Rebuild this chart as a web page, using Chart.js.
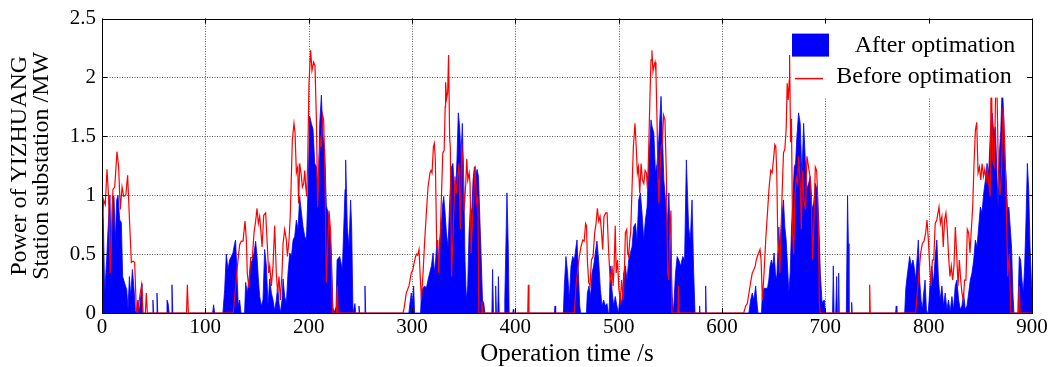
<!DOCTYPE html>
<html>
<head>
<meta charset="utf-8">
<title>Power of YIZHUANG station substation</title>
<script src="https://cdn.jsdelivr.net/npm/chart.js@4/dist/chart.umd.min.js"></script>
<style>
  html, body { margin: 0; padding: 0; background: #fff; }
  #wrap { width: 1050px; height: 367px; }
</style>
</head>
<body>
<div id="wrap"><canvas id="leistung"></canvas></div>
<script>
// Leistung nach der Optimierung (blaue Fläche): Zeit [s] / Leistung [MW]
const afterTime = [
  0, 1.3, 2.6, 4.5, 5.8, 7.7, 9, 10, 11.6, 12.9, 14.2, 15.5, 17.1, 18.7, 20, 22, 23.9, 25.2, 26.5, 27.8,
  29.4, 31, 32.3, 33.5, 34.8, 36, 38.7, 39.5, 48.5, 49.3, 50, 52.5, 53.2, 54, 62, 62.9, 64, 65, 67, 67.7,
  68.5, 107, 108, 109, 117, 118.7, 120.3, 121.9, 123.5, 125.1, 126.7, 128.3, 129.3, 130.6, 131.9, 133.2, 134.5, 138, 139, 140.6,
  142.2, 143.9, 145.5, 147.1, 148.7, 150, 151.3, 152.6, 154.2, 155.8, 157.4, 159.1, 160.7, 162.3, 163.9, 165.5, 167.1, 168.7, 170, 171.3,
  172.6, 174.2, 175.2, 176.8, 178.4, 180, 181.7, 183.3, 184.9, 186.5, 188.1, 189.7, 191.3, 193, 194.6, 196.2, 197.8, 199.4, 201, 202.6,
  204.2, 205.9, 207.5, 209.1, 210.7, 212.3, 213.9, 215.5, 217.1, 218.8, 220.4, 222, 223.5, 224.5, 226.5, 227.5, 230, 232.6, 235.2, 235.8,
  237.4, 239, 240.6, 241.6, 242.9, 244.8, 245.5, 248.2, 248.7, 249.3, 254, 254.5, 255.2, 297, 298, 299.3, 300.4, 301.6, 302.5, 308.3,
  309.1, 310.7, 312.3, 313.9, 315.5, 317.1, 318.8, 320.4, 321.6, 322.9, 324.2, 325.5, 326.8, 328.4, 329.4, 330.7, 332, 333.3, 334.9, 336.7,
  338.3, 339.6, 340.9, 342.2, 343.5, 344.8, 346.1, 347.4, 348.7, 350, 351.3, 352.6, 353.9, 355.2, 356.5, 357.8, 359.1, 360.4, 361.7, 363,
  364.3, 365.6, 366.9, 368.2, 369.5, 370.5, 377.3, 378, 378.8, 380.4, 381, 381.7, 383, 383.6, 384.4, 389.2, 389.8, 391.9, 393.2, 394,
  397.5, 398, 398.5, 437.8, 438.4, 439, 446.5, 447.4, 449, 450.6, 452.2, 453.9, 455.5, 457.1, 458.7, 459.7, 461, 462.3, 463.2, 468.8,
  469.7, 471.3, 472.9, 474.2, 475.8, 477.4, 479, 480.6, 482.3, 483.9, 485.5, 487.1, 488.7, 490, 490.8, 491.9, 493.5, 495.1, 496.7, 498.3,
  499.8, 501.6, 503.2, 504.9, 506.5, 508.1, 509.7, 511.3, 512.9, 514.5, 516.2, 517.8, 519.4, 521, 522.6, 524.3, 525.9, 527.5, 529.1, 531.3,
  532.4, 534, 535.6, 537.2, 538.8, 541, 542.1, 543.7, 545.3, 547, 548.6, 550.2, 551.8, 553, 555, 556.6, 558.2, 560, 562, 563.8,
  565.5, 567.7, 569.3, 571, 572.6, 573.9, 577.8, 578.3, 578.8, 583.6, 584.2, 584.8, 626, 627.7, 629.3, 630.9, 632.6, 633.6, 634.8, 638.2,
  639.1, 640.7, 642.3, 644, 645.3, 646.5, 647.8, 649.1, 650.4, 651.7, 653, 654, 655, 656, 656.9, 658.2, 659.5, 660.8, 662.1, 663.4,
  664.7, 666, 667.3, 668.6, 669.9, 671.2, 672.5, 674.1, 675.7, 677.3, 679, 680.6, 682.2, 683.8, 685.5, 687.1, 688.7, 690.3, 692, 693.6,
  695.2, 696.8, 699, 700, 707, 707.7, 708.5, 710, 711, 711.7, 712.4, 712.9, 713.5, 720.3, 721.5, 722.3, 722.9, 725, 725.5, 726,
  768, 768.6, 769.2, 776.8, 777.8, 779, 781.6, 783.2, 784.8, 785.8, 787.4, 788.7, 790, 791.3, 792.6, 793.9, 795.2, 796.5, 797.8, 798.7,
  799.5, 800.4, 801.7, 803, 804.7, 806.3, 807.9, 809.5, 811.1, 812.8, 814.4, 816, 817.6, 819.2, 820.8, 822.5, 824.1, 825.7, 827.3, 829,
  830.6, 832.2, 833.8, 835.4, 837.1, 838.7, 840.3, 841.9, 843.6, 845.2, 846.8, 848.4, 850, 851.6, 853.3, 854.9, 856.5, 858.1, 859.8, 861.4,
  863, 864.6, 866.3, 867.2, 868.5, 869.8, 871.2, 872.5, 873.8, 875.1, 876.4, 877.6, 878.9, 880.2, 881.5, 882.5, 885.5, 886.4, 887.7, 889,
  890.3, 891.6, 892.9, 894.2, 895.5, 896.8, 898.1, 899.4, 900
];
const afterPower = [
  0.96, 0.79, 0.17, 0.45, 0.7, 1.0, 0.34, 1.0, 0.99, 0.6, 0.96, 1.0, 0.79, 0.77, 0.31, 0.25, 0.2, 0.03, 0.31, 0.14,
  0.37, 0.2, 0.02, 0, 0.11, 0, 0.25, 0, 0, 0.11, 0, 0, 0.17, 0, 0, 0.11, 0.08, 0, 0, 0.24,
  0, 0, 0.07, 0, 0, 0.2, 0.5, 0.37, 0.45, 0.48, 0.51, 0.59, 0.62, 0.34, 0.06, 0.11, 0, 0, 0.26, 0.17,
  0.29, 0.42, 0.45, 0.51, 0.61, 0.48, 0.29, 0.14, 0.06, 0.11, 0.54, 0.4, 0.06, 0.29, 0.17, 0.11, 0.02, 0.11, 0.23, 0.08,
  0, 0.11, 0.29, 0.14, 0.08, 0.34, 0.51, 0.48, 0.62, 0.65, 0.79, 0.71, 0.99, 0.85, 0.73, 0.65, 0.62, 1.05, 1.67, 1.61,
  1.56, 1.27, 1.24, 0.93, 1.61, 1.85, 1.5, 1.39, 0.91, 0.85, 0.72, 0.5, 0.05, 0, 0.05, 0.45, 0.48, 0.37, 1.05, 1.3,
  0.73, 0.56, 0.96, 0.73, 0, 0.08, 0, 0, 0.06, 0, 0, 0.23, 0, 0, 0.08, 0.17, 0.08, 0.23, 0, 0,
  0.17, 0.21, 0.23, 0.21, 0.28, 0.34, 0.4, 0.51, 0.34, 0.45, 0.62, 0.4, 0.62, 0.73, 0.9, 0.99, 0.85, 0.68, 0.56, 1.0,
  1.24, 1.27, 1.07, 1.02, 1.3, 1.7, 1.58, 1.33, 1.61, 1.16, 0.45, 0.11, 0.23, 0.68, 0.9, 0.85, 1.13, 1.24, 1.16, 1.22,
  1.16, 0.82, 0.48, 0.11, 0.08, 0, 0, 0.37, 0, 0, 0.23, 0, 0, 0.31, 0, 0, 0.11, 1.02, 0.54, 0,
  0, 0.03, 0, 0, 0.06, 0, 0, 0.23, 0.48, 0.34, 0.11, 0.4, 0.48, 0.45, 0.56, 0.62, 0.34, 0.06, 0, 0,
  0.17, 0.23, 0.14, 0.34, 0.4, 0.51, 0.61, 0.45, 0.2, 0.06, 0.11, 0.06, 0.08, 0, 0, 0.4, 0.2, 0.06, 0.14, 0.06,
  0, 0.17, 0.06, 0.34, 0.4, 0.28, 0.45, 0.51, 0.56, 0.73, 0.76, 0.62, 0.96, 1.02, 0.85, 0.62, 0.79, 0.9, 1.27, 1.64,
  1.58, 1.53, 1.19, 1.27, 1.47, 1.84, 1.58, 1.13, 0.96, 0.73, 1.02, 0.51, 0.14, 0, 0.34, 0.48, 0.45, 0.4, 0.48, 0.45,
  1.3, 0.73, 0.62, 0.96, 0.34, 0, 0, 0.06, 0, 0, 0.23, 0, 0, 0.11, 0.17, 0.11, 0.23, 0.11, 0, 0,
  0.17, 0.21, 0.21, 0.21, 0.28, 0.4, 0.45, 0.4, 0.51, 0.34, 0.28, 0.51, 0.73, 0.51, 0.68, 0.85, 0.96, 0.73, 0.62, 0.4,
  0.17, 0.34, 0.73, 0.96, 1.24, 1.27, 1.5, 1.7, 1.61, 1.16, 1.61, 1.3, 1.05, 1.1, 1.16, 0.88, 0.93, 1.1, 1.05, 0.79,
  0.33, 0.09, 0.11, 0, 0, 0.4, 0, 0, 0.31, 0, 0, 0.34, 0, 0, 1.0, 0.59, 0, 0, 0.09, 0,
  0, 0.06, 0, 0, 0.2, 0.3, 0.48, 0.4, 0.45, 0.4, 0.28, 0.45, 0.62, 0.28, 0.11, 0.03, 0.17, 0.28, 0.03, 0,
  0, 0.11, 0.28, 0.4, 0.25, 0.48, 0.62, 0.28, 0.11, 0.23, 0.06, 0.17, 0.03, 0.11, 0.01, 0.14, 0.03, 0.23, 0.28, 0.11,
  0.03, 0.06, 0.17, 0.03, 0.06, 0.17, 0.28, 0.34, 0.45, 0.62, 0.56, 0.73, 0.9, 0.85, 1.02, 1.13, 1.27, 1.19, 1.55, 1.7,
  1.53, 1.58, 1.13, 0.9, 1.36, 1.55, 1.95, 1.7, 1.33, 1.13, 0.85, 0.9, 0.73, 0.56, 0.17, 0, 0, 0.06, 0.48, 0.45,
  0.28, 0.17, 0.4, 0.79, 1.27, 1.05, 0.56, 0.28, 0.2
];

// Leistung vor der Optimierung (rote Linie)
const beforeTime = [
  0, 1.6, 3.2, 4.8, 6.4, 8, 10.6, 12.3, 14.5, 16.1, 17.7, 19.4, 21, 23, 24.8, 26.7, 28.4, 30, 31.6, 33.2,
  34.5, 36.5, 38.4, 39.7, 42, 42.9, 43.9, 81.8, 82.6, 83.6, 127, 129.4, 131.6, 133.2, 134.8, 136.5, 138.4, 139.7, 140.6, 142.2,
  143.9, 145.5, 147.1, 148.7, 150, 151.3, 152.6, 153.6, 154.9, 156.5, 158.4, 159.7, 161.3, 162.3, 163.9, 165.5, 167.1, 168.7, 170, 171.3,
  172.6, 174.2, 175.2, 176.8, 178.4, 179.4, 181, 182.3, 184.2, 185.8, 186.8, 188.1, 189.4, 190.3, 191.3, 193, 193.9, 195.2, 196.2, 197.2,
  198.1, 199.1, 200.3, 201.9, 203.2, 204.8, 206.1, 207.5, 208.7, 210, 211.3, 212.3, 213.5, 214.5, 215.8, 217.1, 218.4, 219.7, 221.3, 223,
  226.8, 227.7, 228.5, 291.3, 292.3, 294.5, 297.1, 299.3, 300.9, 301.9, 303.5, 304.5, 305.5, 306.8, 307.8, 309.1, 310.7, 312.3, 313.9, 315.5,
  317.4, 318.4, 319.4, 320.7, 321.6, 322.6, 323.9, 324.9, 325.9, 327.2, 328.5, 329.8, 331.1, 332.1, 332.5, 333.5, 334.5, 335.4, 336.4, 337.1,
  338.3, 340, 341.6, 342.9, 344.2, 345.5, 346.8, 348.1, 349.4, 350.4, 352, 353, 354, 355.3, 356.2, 357.2, 358.5, 359.8, 361.1, 362.4,
  363.7, 364.7, 366.8, 367.6, 368.4, 412, 412.6, 413.2, 457.1, 458.7, 460.3, 461.9, 463.5, 465.2, 466.6, 468, 468.9, 469.7, 471, 472.3,
  473.6, 475.2, 476.8, 478.1, 479.4, 480.7, 482, 483.2, 484.5, 485.8, 487.5, 488.8, 490.1, 491.4, 492.3, 493.6, 494.6, 495.6, 496.7, 497.6,
  498.9, 500.2, 501.6, 502.9, 504.2, 505.5, 506.5, 507.8, 508.7, 509.7, 510.7, 511.6, 512.9, 514.2, 515.8, 517.1, 518.1, 519.1, 520.4, 521.7,
  523, 524.3, 525.6, 526.9, 527.9, 528.9, 530.2, 531.3, 532.2, 533.2, 534.2, 535.2, 536.1, 537.1, 538.1, 539, 540, 541, 542.3, 543.5,
  544.8, 546.1, 547.4, 548.4, 549.3, 550.6, 551.6, 557.3, 557.9, 558.5, 621, 622.9, 624.5, 626.1, 627.7, 629.3, 630.9, 632.2, 633.2, 634.2,
  635.5, 636.8, 637.8, 639.1, 640.7, 642.3, 644, 645.6, 647.2, 648.5, 649.8, 651.1, 652.1, 653, 654, 655, 656, 656.9, 658.2, 659.5,
  660.8, 662.1, 663.1, 664.1, 665.1, 665.4, 666.4, 667.2, 668.3, 669.3, 670.6, 671.9, 673.2, 674.1, 675.7, 676.7, 678, 679.3, 680.9, 682.2,
  683.8, 685.1, 686.4, 687.7, 689, 690.3, 691.6, 692.6, 693.6, 694.2, 695, 742.3, 742.9, 743.5, 787.4, 789, 790.6, 792.3, 793.9, 795.5,
  797.1, 798.4, 799.7, 801, 802.3, 803.6, 804.9, 806.3, 807.9, 810, 811.4, 812.8, 814.1, 815.4, 816.7, 818, 819.3, 820.6, 821.9, 823.2,
  824.5, 825.8, 827.1, 828.4, 829.7, 831, 832.2, 833.5, 834.8, 836.1, 837.4, 838.7, 840, 841.3, 842.6, 843.9, 845.2, 846.5, 847.8, 849.1,
  850.4, 851.7, 853, 854.3, 855.6, 856.9, 858.2, 859.5, 860.5, 862, 863.5, 865.5, 867.5, 869, 870.5, 872, 873.5, 875, 876.5, 878,
  879.5, 886.8, 887.7, 888.5, 900
];
const beforePower = [
  0.66, 0.96, 0.92, 1.22, 0.99, 0.34, 1.05, 1.07, 1.37, 1.24, 0.88, 1.07, 0.99, 1.0, 1.17, 0.77, 0.43, 0.44, 0.43, 0.03,
  0, 0.14, 0.24, 0, 0, 0.17, 0, 0, 0.24, 0, 0, 0.23, 0.45, 0.58, 0.61, 0.61, 0.78, 0.62, 0.34, 0.21,
  0.47, 0.47, 0.68, 0.78, 0.89, 0.76, 0.82, 0.71, 0.56, 0.83, 0.85, 0.62, 0.34, 0.4, 0.23, 0.4, 0.74, 0.34, 0.17, 0.31,
  0.11, 0.34, 0.59, 0.71, 0.62, 0.48, 0.62, 0.85, 1.47, 1.61, 1.53, 1.19, 1.24, 0.93, 1.27, 1.16, 1.07, 1.1, 1.21, 1.07,
  0.99, 1.3, 1.95, 2.23, 2.06, 2.13, 2.1, 1.64, 0.9, 1.3, 1.47, 1.41, 1.68, 1.64, 1.16, 0.26, 0.56, 0.87, 0.68, 0,
  0, 0.23, 0, 0, 0.04, 0.17, 0.23, 0.34, 0.37, 0.42, 0.48, 0.5, 0.49, 0.54, 0.34, 0.11, 0.34, 0.62, 0.85, 1.07,
  1.19, 1.21, 1.19, 1.41, 1.44, 1.3, 0.56, 0.62, 0.34, 0.62, 0.99, 1.36, 1.38, 1.75, 1.96, 1.82, 1.87, 2.19, 1.5, 1.4,
  0.31, 0.73, 1.16, 1.02, 1.16, 1.27, 0.71, 1.44, 1.25, 0.87, 1.1, 1.31, 1.13, 1.19, 1.1, 0.51, 0.79, 0.99, 1.25, 0.93,
  0.99, 0, 0, 0.1, 0, 0, 0.24, 0, 0, 0.23, 0.37, 0.48, 0.56, 0.62, 0.61, 0.76, 0.74, 0.45, 0.26, 0.23,
  0.45, 0.48, 0.68, 0.76, 0.89, 0.78, 0.82, 0.71, 0.54, 0.82, 0.85, 0.85, 0.56, 0.34, 0.28, 0.4, 0.23, 0.4, 0.74, 0.34,
  0.45, 0.2, 0.11, 0.28, 0.11, 0.34, 0.68, 0.71, 0.51, 0.48, 0.62, 0.68, 1.05, 1.41, 1.61, 1.39, 1.19, 1.24, 1.02, 1.27,
  1.13, 1.1, 1.21, 1.19, 1.05, 1.33, 1.81, 2.15, 2.23, 2.05, 2.1, 2.13, 2.04, 1.64, 1.13, 0.93, 1.19, 1.41, 1.44, 1.68,
  1.64, 1.19, 0.34, 0.28, 0.62, 0.87, 0, 0, 0.23, 0, 0, 0.06, 0.08, 0.17, 0.26, 0.34, 0.37, 0.4, 0.45, 0.48,
  0.51, 0.54, 0.45, 0.11, 0.34, 0.62, 0.85, 1.07, 1.21, 1.19, 1.3, 1.43, 1.41, 1.19, 0.62, 0.51, 0.34, 0.62, 1.02, 1.36,
  1.39, 1.56, 1.95, 1.81, 1.98, 2.19, 1.45, 1.65, 0.68, 0.5, 1.0, 1.15, 1.1, 1.33, 1.1, 0.71, 1.21, 0.96, 0.88, 1.33,
  1.24, 1.16, 0.99, 0.45, 0.79, 1.24, 1.21, 0.99, 0.59, 0.09, 0, 0, 0.24, 0, 0, 0.17, 0.34, 0.51, 0.59, 0.61,
  0.68, 0.79, 0.62, 0.4, 0.23, 0.45, 0.45, 0.76, 0.79, 0.9, 0.76, 0.82, 0.56, 0.79, 0.85, 0.71, 0.48, 0.31, 0.4, 0.28,
  0.4, 0.73, 0.51, 0.23, 0.45, 0.28, 0.17, 0.11, 0.28, 0.28, 0.71, 0.68, 0.51, 0.71, 0.9, 1.27, 1.55, 1.62, 1.19, 1.24,
  1.13, 1.27, 1.16, 1.22, 1.13, 1.22, 1.1, 0.99, 2.1, 1.3, 1.25, 2.2, 1.2, 1.0, 1.2, 1.75, 1.45, 1.0, 0.31, 0.5,
  0, 0, 0.23, 0, 0
];

// Achsen-Ticks
const xTicks = [0, 100, 200, 300, 400, 500, 600, 700, 800, 900];
const yTicks = [0, 0.5, 1, 1.5, 2, 2.5];

const toPoints = (t, p) => t.map((x, i) => ({ x: x, y: p[i] }));

Chart.defaults.font.family = '"Liberation Serif", "Times New Roman", serif';
Chart.defaults.color = '#000';

// Gitter (gepunktet) unter den Daten, Rahmen + Ticks + Legende darüber
const rahmenPlugin = {
  id: 'rahmen',
  beforeDatasetsDraw(chart) {
    const { ctx, chartArea: a, scales } = chart;
    ctx.save();
    ctx.strokeStyle = '#555';
    ctx.lineWidth = 1;
    ctx.setLineDash([1, 1.5]);
    xTicks.forEach(v => {
      const x = Math.round(scales.x.getPixelForValue(v)) + 0.5;
      ctx.beginPath(); ctx.moveTo(x, a.top); ctx.lineTo(x, a.bottom); ctx.stroke();
    });
    yTicks.forEach(v => {
      const y = Math.round(scales.y.getPixelForValue(v)) + 0.5;
      ctx.beginPath(); ctx.moveTo(a.left, y); ctx.lineTo(a.right, y); ctx.stroke();
    });
    ctx.restore();
  },
  afterDatasetsDraw(chart) {
    const { ctx, chartArea: a, scales } = chart;
    ctx.save();

    // Legende mit weissem Hintergrund
    const lx = a.right - 240, ly = a.top + 1;
    ctx.fillStyle = '#fff';
    ctx.fillRect(lx, ly, 239, 78);
    ctx.fillStyle = '#0000ff';
    ctx.fillRect(lx, ly + 14, 37, 23);
    ctx.strokeStyle = '#ff0000';
    ctx.lineWidth = 1.5;
    ctx.beginPath(); ctx.moveTo(lx + 3, ly + 59); ctx.lineTo(lx + 31, ly + 59); ctx.stroke();
    ctx.fillStyle = '#000';
    ctx.font = '24px "Liberation Serif", serif';
    ctx.textAlign = 'center';
    ctx.textBaseline = 'alphabetic';
    ctx.fillText('After optimation', lx + 143, ly + 32);
    ctx.fillText('Before optimation', lx + 132, ly + 63);

    // Rahmen
    ctx.strokeStyle = '#000';
    ctx.lineWidth = 1;
    ctx.strokeRect(Math.round(a.left) + 0.5, Math.round(a.top) + 0.5,
      Math.round(a.right - a.left), Math.round(a.bottom - a.top));

    // Ticks nach innen, auf allen vier Seiten
    const len = 5;
    ctx.beginPath();
    xTicks.forEach(v => {
      const x = Math.round(scales.x.getPixelForValue(v)) + 0.5;
      ctx.moveTo(x, a.bottom); ctx.lineTo(x, a.bottom - len);
      ctx.moveTo(x, a.top); ctx.lineTo(x, a.top + len);
    });
    yTicks.forEach(v => {
      const y = Math.round(scales.y.getPixelForValue(v)) + 0.5;
      ctx.moveTo(a.left, y); ctx.lineTo(a.left + len, y);
      ctx.moveTo(a.right, y); ctx.lineTo(a.right - len, y);
    });
    ctx.stroke();
    ctx.restore();
  }
};

new Chart(document.getElementById('leistung'), {
  type: 'line',
  data: {
    datasets: [
      {
        label: 'Before optimation',
        data: toPoints(beforeTime, beforePower),
        borderColor: '#ff0000',
        borderWidth: 1.2,
        pointRadius: 0,
        fill: false,
        tension: 0,
        order: 0
      },
      {
        label: 'After optimation',
        data: toPoints(afterTime, afterPower),
        borderColor: '#0000ff',
        backgroundColor: '#0000ff',
        borderWidth: 0.8,
        pointRadius: 0,
        fill: 'origin',
        tension: 0,
        order: 1
      }
    ]
  },
  options: {
    responsive: true,
    maintainAspectRatio: false,
    animation: false,
    layout: { padding: { left: 0, top: 18, right: 18, bottom: 0 } },
    plugins: {
      legend: { display: false },
      tooltip: { enabled: false }
    },
    scales: {
      x: {
        type: 'linear',
        min: 0,
        max: 900,
        grid: { display: false, drawTicks: false },
        border: { display: false },
        afterBuildTicks: scale => { scale.ticks = xTicks.map(v => ({ value: v })); },
        afterFit: scale => { scale.height = 54; },
        ticks: { font: { size: 21 }, padding: 2, maxRotation: 0 },
        title: { display: true, text: 'Operation time /s', font: { size: 25, lineHeight: 1.0 }, padding: { top: 0, bottom: 0 } }
      },
      y: {
        min: 0,
        max: 2.5,
        grid: { display: false, drawTicks: false },
        border: { display: false },
        afterBuildTicks: scale => { scale.ticks = yTicks.map(v => ({ value: v })); },
        afterFit: scale => { scale.width = 102; },
        ticks: { font: { size: 21 }, padding: 6, callback: v => String(v) },
        title: {
          display: true,
          text: ['Power of YIZHUANG', 'Station substation /MW'],
          font: { size: 24, lineHeight: 0.95 },
          padding: { top: 8, bottom: 0 }
        }
      }
    }
  },
  plugins: [rahmenPlugin]
});
</script>
</body>
</html>
